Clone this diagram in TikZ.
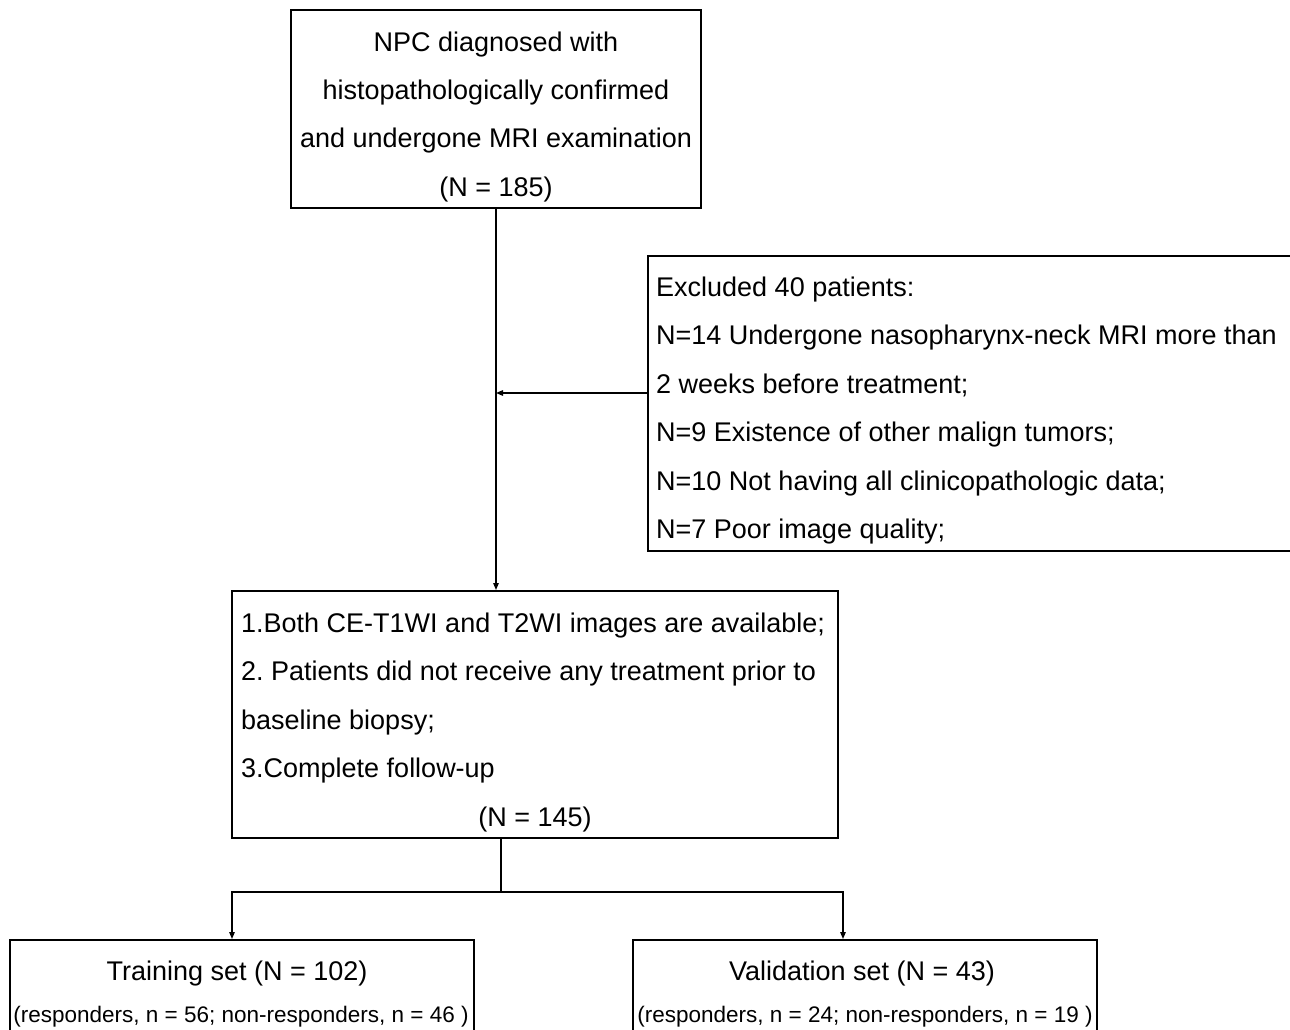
\documentclass[tikz,border=0pt]{standalone}
\usepackage{fontspec}
\setmainfont{Liberation Sans}
\usetikzlibrary{arrows.meta}
\frenchspacing
\begin{document}
\begin{tikzpicture}[x=1pt,y=-1pt,
  boxst/.style={draw=black,line width=2pt,rectangle,inner sep=0pt},
  bigtxt/.style={font=\fontsize{27}{30}\selectfont,inner sep=0pt},
  smalltxt/.style={font=\fontsize{22.5}{26}\selectfont,inner sep=0pt},
  arr/.style={line width=1.3pt,-{Triangle[length=7pt,width=5.5pt]}},
  ln/.style={line width=1.3pt}]
\useasboundingbox (0,0) rectangle (1290,1030);
\clip (0,0) rectangle (1290,1030);
\fill[white] (0,0) rectangle (1290,1030);
% boxes
\node[boxst,minimum width=410pt,minimum height=198pt] (b1) at (496,109) {};
\node[boxst,minimum width=700pt,minimum height=295pt] (excl) at (998,403.5) {};
\node[boxst,minimum width=606pt,minimum height=247pt] (b2) at (535,714.5) {};
\node[boxst,minimum width=464pt,minimum height=140pt] (train) at (242,1010) {};
\node[boxst,minimum width=464pt,minimum height=140pt] (valid) at (865,1010) {};
% box 1 text
\node[bigtxt,anchor=base] (t11) at (496,51.5) {NPC diagnosed with};
\node[bigtxt,anchor=base] (t12) at (496,99.5) {histopathologically confirmed};
\node[bigtxt,anchor=base] (t13) at (496,147.5) {and undergone MRI examination};
\node[bigtxt,anchor=base] (t14) at (496,196.5) {(N = 185)};
% excluded text
\node[bigtxt,anchor=base west] (e1) at (656,296.5) {Excluded 40 patients:};
\node[bigtxt,anchor=base west] (e2) at (656,344.5) {N=14 Undergone nasopharynx-neck MRI more than};
\node[bigtxt,anchor=base west] (e3) at (656,393.5) {2 weeks before treatment;};
\node[bigtxt,anchor=base west] (e4) at (656,441.5) {N=9 Existence of other malign tumors;};
\node[bigtxt,anchor=base west] (e5) at (656,490.5) {N=10 Not having all clinicopathologic data;};
\node[bigtxt,anchor=base west] (e6) at (656,538.5) {N=7 Poor image quality;};
% box 2 text
\node[bigtxt,anchor=base west] (c1) at (241,632.5) {1.Both CE-T1WI and T2WI images are available;};
\node[bigtxt,anchor=base west] (c2) at (241,680.5) {2. Patients did not receive any treatment prior to};
\node[bigtxt,anchor=base west] (c3) at (241,729.5) {baseline biopsy;};
\node[bigtxt,anchor=base west] (c4) at (241,777.5) {3.Complete follow-up};
\node[bigtxt,anchor=base] (c5) at (535,826.5) {(N = 145)};
% bottom texts
\node[bigtxt,anchor=base] (tr1) at (237,980.5) {Training set (N = 102)};
\node[smalltxt,anchor=base] (tr2) at (241,1022) {(responders, n = 56; non-responders, n = 46 )};
\node[bigtxt,anchor=base] (va1) at (862,980.5) {Validation set (N = 43)};
\node[smalltxt,anchor=base] (va2) at (865,1022) {(responders, n = 24; non-responders, n = 19 )};
% connectors
\coordinate (j1) at (496,393);
\coordinate (split) at (501,892);
\draw[arr] (b1.south) -- (b1.south |- b2.north);
\draw[arr] (excl.west |- j1) -- (j1);
\draw[ln] (b2.south -| split) -- (split);
\draw[arr] (split) -| (train.north -| 232,0);
\draw[arr] (split) -| (valid.north -| 843,0);
\end{tikzpicture}
\end{document}
